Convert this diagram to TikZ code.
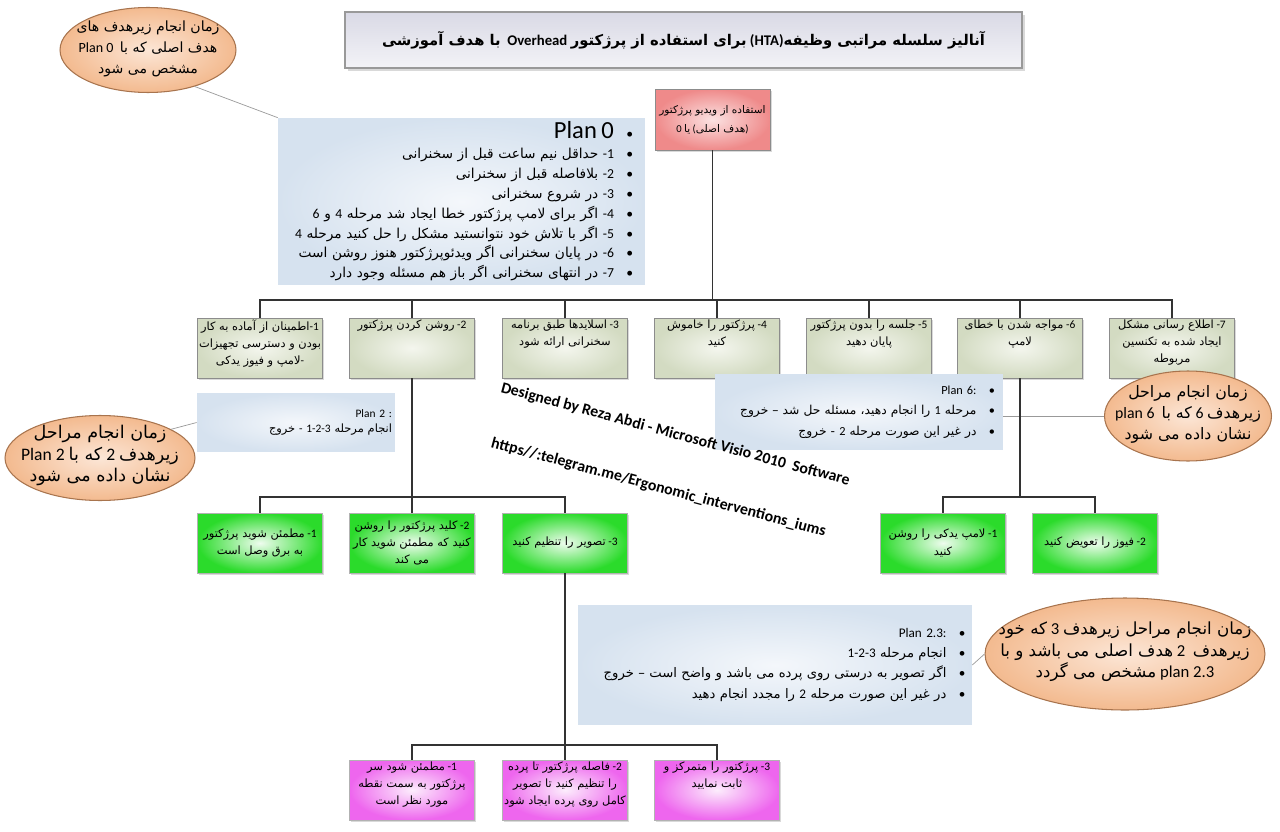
\documentclass[tikz,border=0pt]{standalone}
\usepackage{fontspec}
\setmainfont{Carlito}
\newfontfamily\arabicfont[Script=Arabic]{DejaVu Sans}
\TeXXeTstate=1
\usetikzlibrary{shapes.geometric,shadows,positioning}

\definecolor{planblue}{HTML}{D6E2EF}
\definecolor{planin}{HTML}{F4F7FB}
\definecolor{stepout}{HTML}{D3DBC2}
\definecolor{stepin}{HTML}{F4F6EE}
\definecolor{rootout}{HTML}{EF8A8A}
\definecolor{rootin}{HTML}{FBE2E2}
\definecolor{greenout}{HTML}{2BDB2B}
\definecolor{greenin}{HTML}{EEFCEE}
\definecolor{pinkout}{HTML}{EE66EE}
\definecolor{pinkin}{HTML}{FCEDFC}
\definecolor{noteout}{HTML}{F3BA8F}
\definecolor{notein}{HTML}{FCE6D6}
\definecolor{noteline}{HTML}{A8744E}
\definecolor{titletop}{HTML}{D9D9E5}
\definecolor{titlebot}{HTML}{F3F3F7}

% persian text, numbering and bullets
\newcommand\rl[1]{{\arabicfont\beginR #1\endR}}
\newcommand\lead[1]{-#1}
\newcommand\bul{\hspace{0.25cm}\makebox[0.2cm][l]{\textbullet}}
\newcommand\cell[2][t]{\parbox[c][1.14cm][#1]{2.44cm}{\centering #2}}
\newcommand\notetext[1]{\makebox[0pt]{\raisebox{-0.25em}{\smash{\begin{tabular}{@{}c@{}}#1\end{tabular}}}}}
\newcommand\boxfont{\fontsize{6.5}{9.8}\selectfont}
\newcommand\planfont{\fontsize{7.8}{11.3}\selectfont}

\begin{document}
\begin{tikzpicture}[x=0.02cm, y=-0.02cm,
  link/.style={draw=black!80, line width=1.1pt},
  callout/.style={draw=black!40, line width=0.4pt},
  stepbox/.style={rectangle, draw=black!45, inner color=stepin, outer color=stepout,
    minimum width=2.5cm, minimum height=1.2cm, inner sep=0pt, font=\boxfont,
    drop shadow={shadow xshift=1pt, shadow yshift=-1pt, opacity=0.3}},
  goalbox/.style={stepbox, inner color=rootin, outer color=rootout,
    minimum width=2.3cm, minimum height=1.22cm, font=\fontsize{6}{11}\selectfont},
  greenbox/.style={stepbox, draw=black!30, inner color=greenin, outer color=greenout},
  pinkbox/.style={stepbox, draw=black!30, inner color=pinkin, outer color=pinkout},
  planbox/.style={rectangle, inner color=planin, outer color=planblue, inner sep=0pt, align=right},
  note/.style={ellipse, draw=noteline, line width=0.6pt, inner color=notein,
    outer color=noteout, inner sep=0pt},
  titlebox/.style={rectangle, draw=black!40, line width=1pt, top color=titletop,
    bottom color=titlebot, minimum width=13.54cm, minimum height=1.12cm,
    font=\fontsize{8.4}{12}\selectfont\bfseries,
    drop shadow={shadow xshift=1.5pt, shadow yshift=-1.5pt, opacity=0.3}},
  wmark/.style={font=\fontsize{9}{10}\selectfont\bfseries, rotate=-15, anchor=base west, inner sep=0pt}
]
\useasboundingbox (0,0) rectangle (1280,831);

% title and goal
\node[titlebox] (title) at (683.5,40) {\rl{با هدف آموزشی}\ \ Overhead \rl{برای استفاده از پرژکتور} (HTA)\rl{آنالیز سلسله مراتبی وظیفه}};
\node[goalbox, align=center] (goal) at (712.5,119.5) {\rl{استفاده از ویدیو پرژکتور}\\0 \rl{یا} (\rl{هدف اصلی})};

% plan 0
\node[note, minimum width=3.52cm, minimum height=1.7cm, font=\fontsize{8}{12}\selectfont] (n0) at (148,50)
  {\notetext{\rl{زمان انجام زیرهدف های}\\Plan 0\ \ \rl{هدف اصلی که با}\\\rl{مشخص می شود}}};
\node[planbox, minimum width=7.34cm, minimum height=3.34cm, text width=7.0cm, font=\planfont] (plan0) at (461.5,201.5) {%
  {\fontsize{14}{14}\selectfont Plan 0}\bul\\
  \rl{حداقل نیم ساعت قبل از سخنرانی} \lead{1}\bul\\
  \rl{بلافاصله قبل از سخنرانی} \lead{2}\bul\\
  \rl{در شروع سخنرانی} \lead{3}\bul\\
  6 \rl{و} 4 \rl{اگر برای لامپ پرژکتور خطا ایجاد شد مرحله} \lead{4}\bul\\
  4 \rl{اگر با تلاش خود نتوانستید مشکل را حل کنید مرحله} \lead{5}\bul\\
  \rl{در پایان سخنرانی اگر ویدئوپرژکتور هنوز روشن است} \lead{6}\bul\\
  \rl{در انتهای سخنرانی اگر باز هم مسئله وجود دارد} \lead{7}\bul};
\draw[callout] (n0.-38) -- (plan0.north west);

% sub-goals
\node[stepbox] (t1) at (260,348) {\cell{\rl{اطمینان از آماده به کار}\lead{1}\\\rl{بودن و دسترسی تجهیزات}\\\rl{لامپ و فیوز یدکی}-}};
\node[stepbox] (t2) at (412,348) {\cell{\rl{روشن کردن پرژکتور} \lead{2}}};
\node[stepbox] (t3) at (565,348) {\cell{\rl{اسلایدها طبق برنامه} \lead{3}\\\rl{سخنرانی ارائه شود}}};
\node[stepbox] (t4) at (717,348) {\cell{\rl{پرژکتور را خاموش} \lead{4}\\\rl{کنید}}};
\node[stepbox] (t5) at (869,348) {\cell{\rl{جلسه را بدون پرژکتور} \lead{5}\\\rl{پایان دهید}}};
\node[stepbox] (t6) at (1020,348) {\cell{\rl{مواجه شدن با خطای} \lead{6}\\\rl{لامپ}}};
\node[stepbox] (t7) at (1172,348) {\cell{\rl{اطلاع رسانی مشکل} \lead{7}\\\rl{ایجاد شده به تکنسین}\\\rl{مربوطه}}};
\coordinate (bus0) at (712.5,300);
\draw[link] (goal) -- (bus0);
\foreach \s in {t1,t2,t3,t4,t5,t6,t7}
  \draw[link] (\s.north) |- (bus0);

% plan 2
\node[planbox, minimum width=3.96cm, minimum height=1.18cm, text width=3.84cm, font=\fontsize{6.5}{9}\selectfont] (plan2) at (296,422.5) {Plan 2 :\\\rl{خروج} - 1-2-3 \rl{انجام مرحله}};
\node[note, minimum width=3.8cm, minimum height=1.7cm, font=\fontsize{10}{12}\selectfont] (n2) at (100,458)
  {\notetext{\rl{زمان انجام مراحل}\\Plan 2 \rl{که با} 2 \rl{زیرهدف}\\\rl{نشان داده می شود}}};
\draw[callout] (n2.22) -- (plan2.west);

\node[greenbox] (g1) at (260,543) {\cell[c]{\rl{مطمئن شوید پرژکتور} \lead{1}\\\rl{به برق وصل است}}};
\node[greenbox] (g2) at (412,543) {\cell[c]{\rl{کلید پرژکتور را روشن} \lead{2}\\\rl{کنید که مطمئن شوید کار}\\\rl{می کند}}};
\node[greenbox] (g3) at (565,543) {\cell[c]{\rl{تصویر را تنظیم کنید} \lead{3}}};
\coordinate (bus2) at (412,497);
\draw[link] (t2) -- (bus2);
\foreach \s in {g1,g2,g3}
  \draw[link] (\s.north) |- (bus2);

% plan 6
\node[planbox, minimum width=5.76cm, minimum height=1.5cm, text width=5.6cm, font=\fontsize{7}{11.6}\selectfont] (plan6) at (859,412) {%
  Plan 6:\bul\\
  \rl{را انجام دهید، مسئله حل شد – خروج} 1 \rl{مرحله}\bul\\
  \rl{- خروج} 2 \rl{در غیر این صورت مرحله}\bul};
\node[note, minimum width=3.34cm, minimum height=1.8cm, font=\fontsize{9}{12}\selectfont] (n6) at (1188,416)
  {\notetext{\rl{زمان انجام مراحل}\\plan 6\ \ \rl{که با} 6 \rl{زیرهدف}\\\rl{نشان داده می شود}}};
\draw[callout] (n6.west) -- (n6.west -| plan6.east);

\node[greenbox] (g4) at (943,543) {\cell[c]{\rl{لامپ یدکی را روشن} \lead{1}\\\rl{کنید}}};
\node[greenbox] (g5) at (1095,543) {\cell[c]{\rl{فیوز را تعویض کنید} \lead{2}}};
\coordinate (bus6) at (1020,497);
\draw[link] (t6) -- (bus6);
\foreach \s in {g4,g5}
  \draw[link] (\s.north) |- (bus6);

% plan 2.3
\node[planbox, minimum width=7.88cm, minimum height=2.4cm, text width=7.76cm, font=\fontsize{7.5}{11.4}\selectfont] (plan23) at (775,665) {%
  Plan 2.3:\bul\\
  1-2-3 \rl{انجام مرحله}\bul\\
  \rl{اگر تصویر به درستی روی پرده می باشد و واضح است – خروج}\bul\\
  \rl{را مجدد انجام دهید} 2 \rl{در غیر این صورت مرحله}\bul};
\node[note, minimum width=5.6cm, minimum height=2.24cm, font=\fontsize{9.5}{12.2}\selectfont] (n23) at (1125,654)
  {\notetext{\rl{که خود} 3 \rl{زمان انجام مراحل زیرهدف}\\\rl{هدف اصلی می باشد و با} 2\ \ \rl{زیرهدف}\\\rl{مشخص می گردد} plan 2.3}};
\draw[callout] (n23.west) -- (plan23.east);

\node[pinkbox] (p1) at (412,790) {\cell{\rl{مطمئن شود سر} \lead{1}\\\rl{پرژکتور به سمت نقطه}\\\rl{مورد نظر است}}};
\node[pinkbox] (p2) at (565,790) {\cell{\rl{فاصله پرژکتور تا پرده} \lead{2}\\\rl{را تنظیم کنید تا تصویر}\\\rl{کامل روی پرده ایجاد شود}}};
\node[pinkbox] (p3) at (717,790) {\cell{\rl{پرژکتور را متمرکز و} \lead{3}\\\rl{ثابت نمایید}}};
\coordinate (bus3) at (565,745);
\draw[link] (g3) -- (bus3);
\foreach \s in {p1,p2,p3}
  \draw[link] (\s.north) |- (bus3);

% credits
\node[wmark] (wm1) at (500,392) {Designed by Reza Abdi - Microsoft Visio 2010\ \ Software};
\node[wmark] (wm2) at (490,447) {https//:telegram.me/Ergonomic\_interventions\_iums};
\end{tikzpicture}
\end{document}
